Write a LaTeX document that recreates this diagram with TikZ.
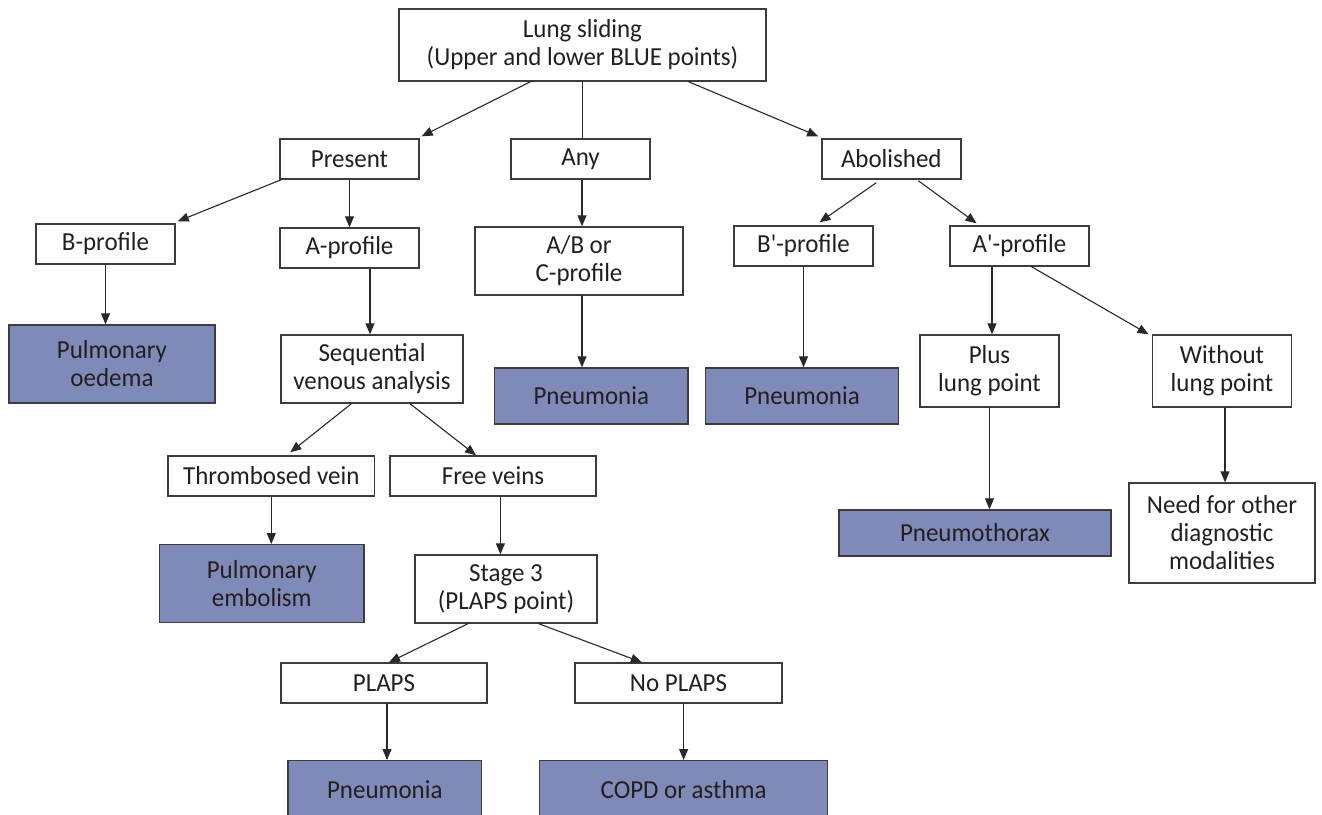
\documentclass[tikz,border=0pt]{standalone}
\usepackage{fontspec}
\setmainfont{Carlito}[FakeStretch=0.96, Ligatures=TeXOff]
\usetikzlibrary{arrows.meta,calc}
\definecolor{boxc}{RGB}{60,60,60}
\definecolor{linec}{RGB}{40,40,40}
\definecolor{resc}{RGB}{127,138,184}
\definecolor{txt}{RGB}{35,31,32}
\begin{document}
\begin{tikzpicture}[x=1pt,y=-1pt,
  box/.style={draw=boxc, line width=1.4pt, fill=white, text=txt, align=center, inner sep=0pt,
    font=\fontsize{26}{28}\selectfont},
  res/.style={box, fill=resc},
  arr/.style={draw=linec, line width=1.1pt, -{Triangle[length=11pt,width=9pt]}},
  ln/.style={draw=linec, line width=1.1pt}]
\useasboundingbox[fill=white] (0,0) rectangle (1322,814);

\node[box, minimum width=367, minimum height=72] (lung) at (582.5,45) {Lung sliding\\(Upper and lower BLUE points)};
\node[box, minimum width=139, minimum height=40] (pres) at (349.5,159) {Present};
\node[box, minimum width=139, minimum height=40] (any) at (580.5,159) {Any};
\node[box, minimum width=139, minimum height=40] (abol) at (891.3,159) {Abolished};
\node[box, minimum width=139, minimum height=40] (bprof) at (105.5,244) {B-profile};
\node[box, minimum width=139, minimum height=40] (aprof) at (349.5,248) {A-profile};
\node[box, minimum width=208, minimum height=68] (ab) at (579,261) {A/B or\\C-profile};
\node[box, minimum width=139, minimum height=40] (bp) at (803.5,246) {B'-profile};
\node[box, minimum width=139, minimum height=40] (ap) at (1019.5,246) {A'-profile};
\node[res, minimum width=206, minimum height=78] (po) at (112,364) {Pulmonary\\oedema};
\node[box, minimum width=182, minimum height=68] (seq) at (372,369) {Sequential\\venous analysis};
\node[res, minimum width=193.5, minimum height=56] (pn1) at (591.3,396) {Pneumonia};
\node[res, minimum width=193, minimum height=56] (pn2) at (802,396) {Pneumonia};
\node[box, minimum width=139, minimum height=72] (plus) at (989.5,371) {Plus\\lung point};
\node[box, minimum width=139.5, minimum height=72] (wo) at (1222,371) {Without\\lung point};
\node[box, minimum width=206.6, minimum height=40] (thr) at (271.3,476) {Thrombosed vein};
\node[box, minimum width=206, minimum height=40] (free) at (493,476) {Free veins};
\node[res, minimum width=204.5, minimum height=78] (pe) at (261.8,583.7) {Pulmonary\\embolism};
\node[box, minimum width=182, minimum height=68] (st3) at (506,589) {Stage 3\\(PLAPS point)};
\node[res, minimum width=272, minimum height=46] (ptx) at (975,533) {Pneumothorax};
\node[box, minimum width=186, minimum height=100] (need) at (1222,533) {Need for other\\diagnostic\\modalities};
\node[box, minimum width=206, minimum height=40] (plaps) at (384,683) {PLAPS};
\node[box, minimum width=207, minimum height=40] (nop) at (678.5,683) {No PLAPS};
\node[res, minimum width=193.5, minimum height=57] (pn3) at (384.8,789.2) {Pneumonia};
\node[res, minimum width=288, minimum height=57] (copd) at (683.6,789.2) {COPD or asthma};

% connectors
\draw[arr] ([xshift=-52pt]lung.south) -- ([xshift=2pt,yshift=2pt]pres.north east);
\draw[ln] (lung.south) -- (lung.south |- any.north);
\draw[arr] ([xshift=106pt]lung.south) -- ([xshift=-3pt,yshift=2pt]abol.north west);
\draw[arr] ([xshift=2pt]pres.south west) -- ([xshift=2pt,yshift=2pt]bprof.north east);
\draw[arr] (pres.south) -- (aprof.north);
\draw[arr] ([xshift=1.5pt]any.south) -- ([xshift=1.5pt]any.south |- ab.north);
\draw[arr] ([xshift=-15pt,yshift=-3pt]abol.south) -- ([xshift=16pt,yshift=3pt]bp.north);
\draw[arr] ([xshift=27pt,yshift=-1pt]abol.south) -- ([xshift=-43pt,yshift=2pt]ap.north);
\draw[arr] (bprof.south) -- (bprof.south |- po.north);
\draw[arr] ([xshift=-2pt]aprof.south -| seq.north) -- ([xshift=-2pt]seq.north);
\draw[arr] ([xshift=3pt]ab.south) -- ([xshift=3pt]ab.south |- pn1.north);
\draw[arr] (bp.south) -- (bp.south |- pn2.north);
\draw[arr] ([xshift=2.5pt]ap.south -| plus.north) -- ([xshift=2.5pt]plus.north);
\draw[arr] ([xshift=12pt]ap.south) -- ([xshift=-3pt]wo.north west);
\draw[arr] (plus.south) -- (plus.south |- ptx.north);
\draw[arr] ([xshift=3pt]wo.south) -- ([xshift=3pt]need.north);
\draw[arr] ([xshift=-20.6pt]seq.south) -- ([xshift=19pt,yshift=3pt]thr.north);
\draw[arr] ([xshift=38pt]seq.south) -- ([xshift=-17pt]free.north);
\draw[arr] (thr.south) -- (thr.south |- pe.north);
\draw[arr] ([xshift=7.4pt]free.south) -- ([xshift=7.4pt]free.south |- st3.north);
\draw[arr] ([xshift=-38pt]st3.south) -- ([xshift=5pt]plaps.north);
\draw[arr] ([xshift=32.7pt]st3.south) -- ([xshift=-36.7pt]nop.north);
\draw[arr] ([xshift=3pt]plaps.south) -- ([xshift=3pt]plaps.south |- pn3.north);
\draw[arr] (copd.north |- nop.south) -- (copd.north);
\end{tikzpicture}
\end{document}
